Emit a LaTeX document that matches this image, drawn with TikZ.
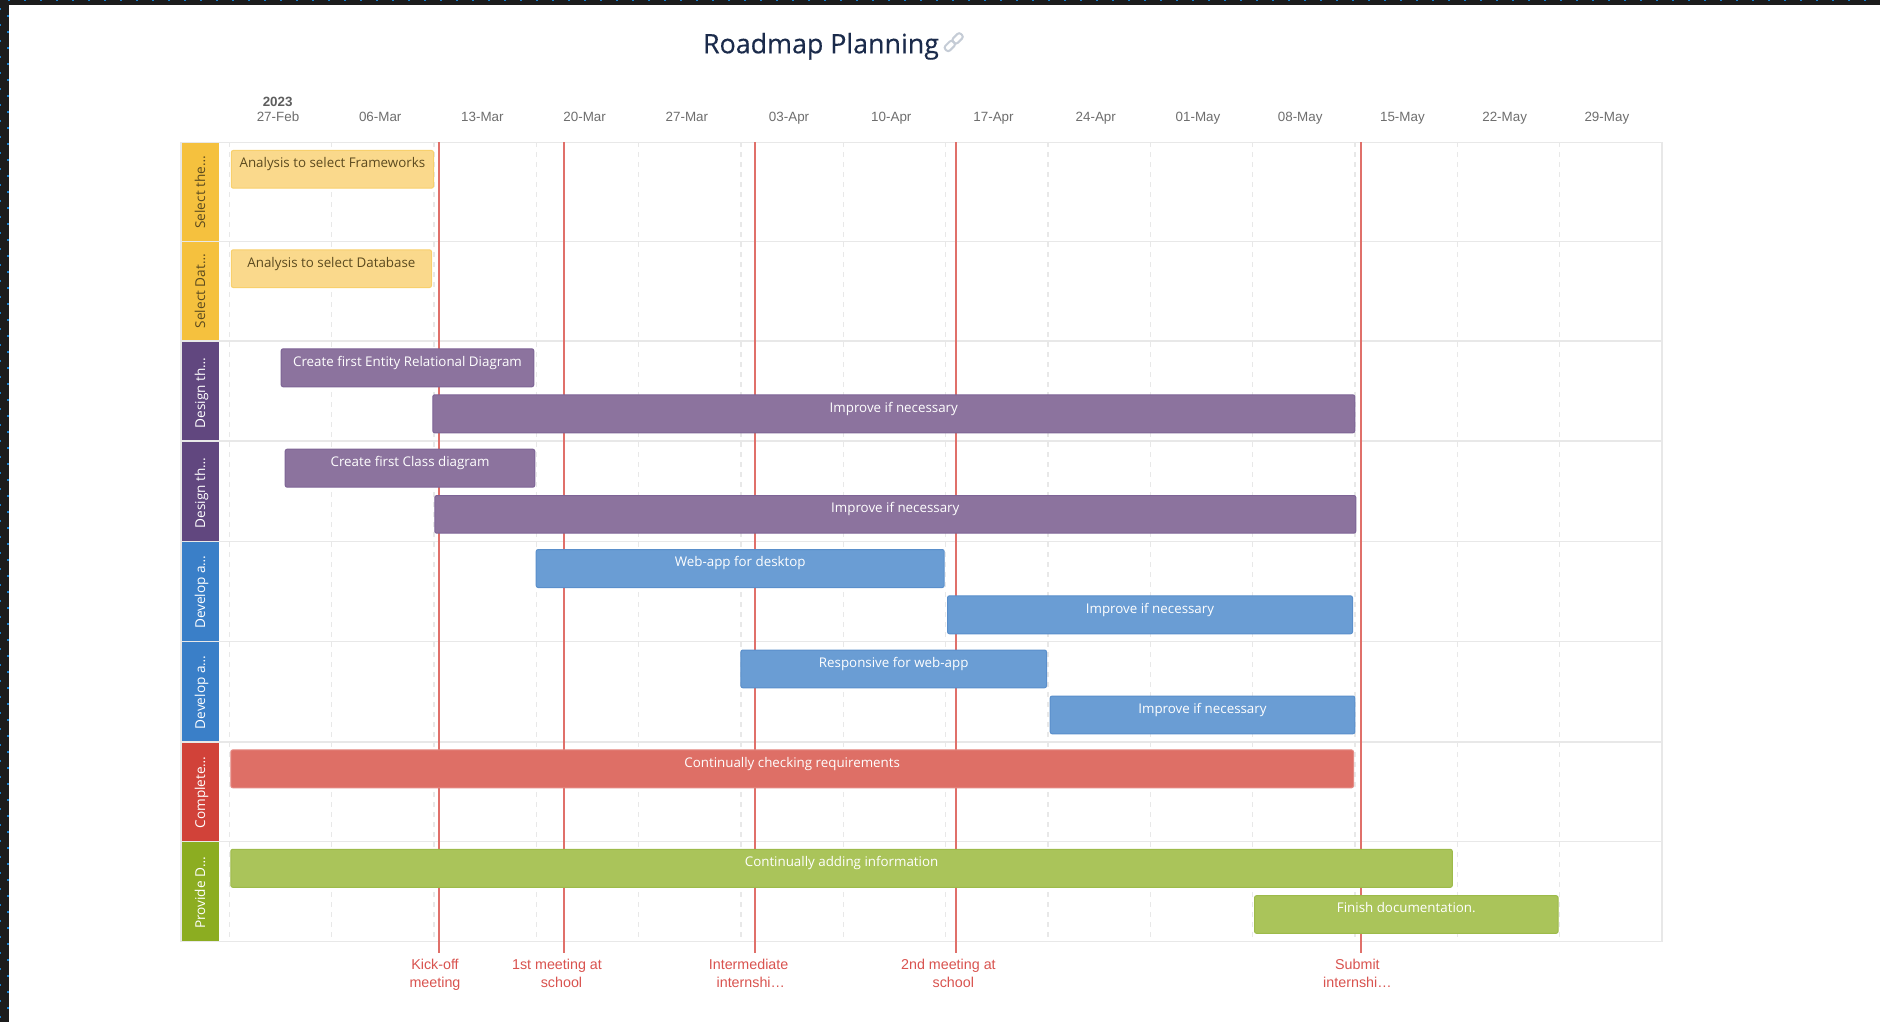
\documentclass[tikz,border=0pt]{standalone}
\usepackage{fontspec}
\setmainfont{Open Sans}
\newfontfamily\arialfont{Liberation Sans}
\newfontfamily\titlefont[FakeBold=0.25]{Open Sans}
\definecolor{framedark}{HTML}{1C1C1C}
\definecolor{framedot}{HTML}{1A7FC9}
\definecolor{gridc}{HTML}{E8E8E8}
\definecolor{redline}{HTML}{E0706A}
\definecolor{redtext}{HTML}{D9534F}
\definecolor{datec}{HTML}{6E6E6E}
\definecolor{yband}{HTML}{F5C13E}\definecolor{yfill}{HTML}{FAD98C}\definecolor{yedge}{HTML}{F8D06C}
\definecolor{pband}{HTML}{61477F}\definecolor{pfill}{HTML}{8C739E}\definecolor{pedge}{HTML}{7E6496}
\definecolor{bband}{HTML}{3A7FC8}\definecolor{bfill}{HTML}{6A9DD4}\definecolor{bedge}{HTML}{5A8FCB}
\definecolor{rband}{HTML}{D14239}\definecolor{rfill}{HTML}{DE6F66}\definecolor{redge}{HTML}{E58A84}
\definecolor{gband}{HTML}{8CAD21}\definecolor{gfill}{HTML}{AAC45A}\definecolor{gedge}{HTML}{9DBB4A}
\definecolor{titlec}{HTML}{1B2B4B}
\definecolor{linkc}{HTML}{C5CCD6}
\definecolor{ytext}{HTML}{5B4A1F}
\tikzset{
  barbox/.style={rectangle,rounded corners=2pt,inner sep=0pt,outer sep=0pt,line width=1pt,anchor=north west},
  ybar/.style={barbox,fill=yfill,draw=yedge},
  pbar/.style={barbox,fill=pfill,draw=pedge},
  bbar/.style={barbox,fill=bfill,draw=bedge},
  rbar/.style={barbox,fill=rfill,draw=redge},
  gbar/.style={barbox,fill=gfill,draw=gedge},
  bartext/.style={anchor=base,inner sep=0pt,text=#1,font=\fontsize{13.35}{16}\selectfont},
  bandbox/.style={rectangle,inner sep=0pt,outer sep=0pt,anchor=north west,fill=#1},
  bandtext/.style={rotate=90,anchor=base west,inner sep=0pt,text=#1,font=\fontsize{13.6}{16}\selectfont},
  datelabel/.style={anchor=base,inner sep=0pt,text=datec,font=\arialfont\fontsize{13.4}{16}\selectfont},
  milelabel/.style={anchor=base,inner sep=0pt,text=redtext,align=center,font=\arialfont\fontsize{14.3}{17.7}\selectfont},
  gridline/.style={gridc,line width=1.2pt,dash pattern=on 5pt off 5pt},
  rowline/.style={gridc,line width=1.5pt},
  mileline/.style={redline,line width=2pt},
  linkpart/.style={rectangle,rounded corners=2.5pt,draw=linkc,line width=2pt,minimum width=11pt,minimum height=6.5pt,inner sep=0pt,rotate=45},
}
\newcommand{\ganttbar}[8]{%
  \pgfmathsetmacro{\gbw}{#4-#3-1}\pgfmathsetmacro{\gbh}{#6-#5-1}%
  \pgfmathsetmacro{\gbc}{(#3+#4)/2}\pgfmathsetmacro{\gbb}{#5+17.7}%
  \pgfmathsetmacro{\gbx}{#3+0.5}\pgfmathsetmacro{\gby}{#5+0.5}%
  \node[#2,minimum width=\gbw pt,minimum height=\gbh pt] (#1) at (\gbx,\gby) {};
  \node[bartext=#7] (#1t) at (\gbc,\gbb) {#8};
}
\newcommand{\ganttband}[6]{%
  \pgfmathsetmacro{\gbh}{#4-#3}\pgfmathsetmacro{\gbb}{#4-12.7}%
  \node[bandbox=#2,minimum width=38pt,minimum height=\gbh pt] (#1) at (181,#3) {};
  \node[bandtext=#5] (#1t) at (205,\gbb) {#6};
}
\begin{document}
\begin{tikzpicture}[x=1pt,y=-1pt]
\useasboundingbox (0,0) rectangle (1880,1022);
\fill[white] (0,0) rectangle (1880,1022);
% screen frame
\fill[framedark] (0,0) rectangle (1880,5);
\fill[framedark] (0,0) rectangle (9,1022);
\foreach \k in {0,...,117}{\fill[framedot] ({8+16*\k},0) rectangle ({10+16*\k},1);}
\foreach \k in {0,...,63}{\fill[framedot] (0,{8+16*\k}) rectangle (1.2,{10+16*\k});}
\foreach \k in {1,...,63}{\fill[framedot] (7,{16*\k-1}) rectangle (9,{16*\k+1});}
% title
\node[anchor=base,inner sep=0pt,text=titlec,font=\titlefont\fontsize{26.8}{30}\selectfont] (title) at (821,53.3) {Roadmap Planning};
\node[linkpart] (linka) at (949.8,46) {};
\node[linkpart] (linkb) at (957.6,38.4) {};
% dates
\node[anchor=base,inner sep=0pt,text=datec!85!black,font=\arialfont\bfseries\fontsize{13.4}{16}\selectfont] (year) at (277.7,106.3) {2023};
\foreach \lab [count=\i from 0] in {27-Feb,06-Mar,13-Mar,20-Mar,27-Mar,03-Apr,10-Apr,17-Apr,24-Apr,01-May,08-May,15-May,22-May,29-May}{
  \node[datelabel] (d\i) at ({278+102.22*\i},121.8) {\lab};
}
% grid
\foreach \i in {0,...,13}{
  \coordinate (gt\i) at ({229.3+102.33*\i},142.3);
  \coordinate (gb\i) at ({229.3+102.33*\i},941.7);
  \draw[gridline] (gt\i) -- (gb\i);
}
% bands
\ganttband{s1}{yband}{142.3}{241.5}{ytext}{Select the…}
\ganttband{s2}{yband}{241.5}{341}{ytext}{Select Dat…}
\ganttband{s3}{pband}{341}{441}{white}{Design th…}
\ganttband{s4}{pband}{441}{541.3}{white}{Design th…}
\ganttband{s5}{bband}{541.3}{641.7}{white}{Develop a…}
\ganttband{s6}{bband}{641.7}{742}{white}{Develop a…}
\ganttband{s7}{rband}{742}{841.3}{white}{Complete…}
\ganttband{s8}{gband}{841.3}{941.7}{white}{Provide D…}
% row lines
\foreach \y [count=\i] in {142.3,241.5,341,441,541.3,641.7,742,841.3,941.7}{
  \coordinate (rl\i) at (181,\y);
  \coordinate (rr\i) at (1662,\y);
  \draw[rowline] (rl\i) -- (rr\i);
}
\draw[rowline] (rl1) -- (rl9);
\draw[rowline] (rr1) -- (rr9);
% milestones
\foreach \x [count=\i] in {438.7,563.7,755,955.7,1360.7}{
  \coordinate (mt\i) at (\x,142.3);
  \coordinate (mb\i) at (\x,952.7);
  \draw[mileline] (mt\i) -- (mb\i);
}
\node[milelabel] (m1) at (435,987.3) {Kick-off\\meeting};
\node[milelabel] (m2) at (561.5,987.3) {1st meeting at\hspace*{9pt}\\school};
\node[milelabel] (m3) at (750.8,987.3) {Intermediate\hspace*{4.4pt}\\internshi…};
\node[milelabel] (m4) at (953.3,987.3) {2nd meeting at\hspace*{9.8pt}\\school};
\node[milelabel] (m5) at (1357.4,987.3) {Submit\\internshi…};
% bars
\ganttbar{a1}{ybar}{230.8}{434}{150}{188.7}{ytext}{Analysis to select Frameworks}
\ganttbar{a2}{ybar}{230.8}{432}{249.3}{288}{ytext}{Analysis to select Database}
\ganttbar{p1}{pbar}{280.7}{534.3}{348.3}{387.3}{white}{Create first Entity Relational Diagram}
\ganttbar{p2}{pbar}{432.3}{1355.3}{394.3}{433.3}{white}{Improve if necessary}
\ganttbar{p3}{pbar}{284.7}{535.3}{448.7}{487.7}{white}{Create first Class diagram}
\ganttbar{p4}{pbar}{434.3}{1356.3}{495}{533.7}{white}{Improve if necessary}
\ganttbar{b1}{bbar}{535.7}{944.7}{549}{588}{white}{Web-app for desktop}
\ganttbar{b2}{bbar}{947}{1353}{595.3}{634.3}{white}{Improve if necessary}
\ganttbar{b3}{bbar}{740.4}{1047}{649.5}{688.3}{white}{Responsive for web-app}
\ganttbar{b4}{bbar}{1049.7}{1355.3}{695.5}{734.3}{white}{Improve if necessary}
\ganttbar{r1}{rbar}{230.3}{1354}{749.4}{788.3}{white}{Continually checking requirements}
\ganttbar{g1}{gbar}{230.3}{1452.8}{848.8}{887.8}{white}{Continually adding information}
\ganttbar{g2}{gbar}{1254}{1558.6}{895.2}{933.8}{white}{Finish documentation.}
\end{tikzpicture}
\end{document}
